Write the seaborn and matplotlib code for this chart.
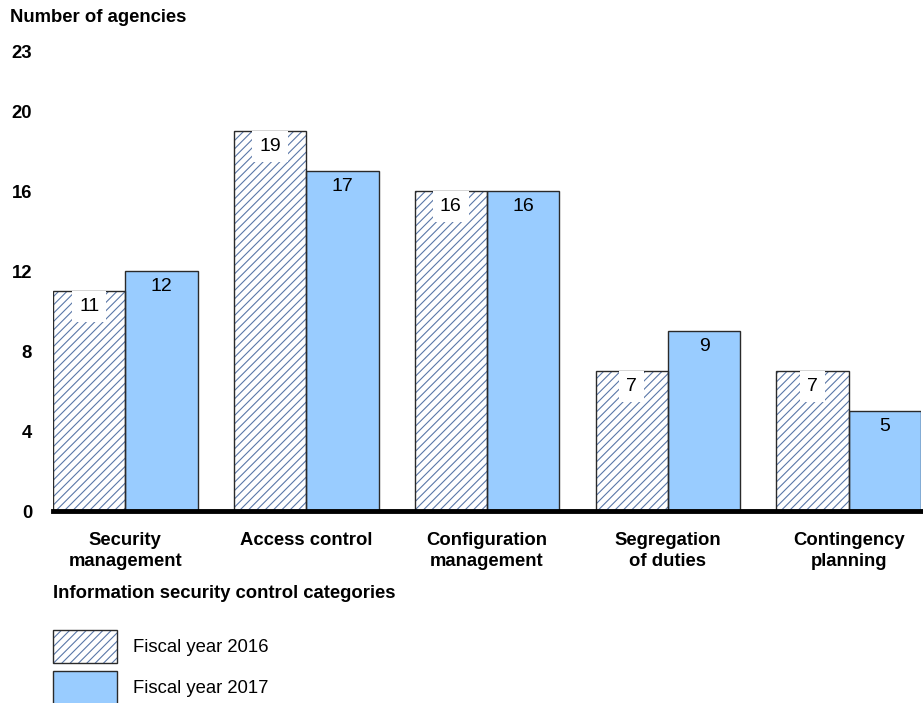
import matplotlib
matplotlib.use("Agg")
import matplotlib.pyplot as plt
from matplotlib.patches import Patch, Rectangle
from matplotlib.legend_handler import HandlerTuple
import pandas as pd
import seaborn as sns

categories = ["Security\nmanagement", "Access control", "Configuration\nmanagement",
              "Segregation\nof duties", "Contingency\nplanning"]
fy2016 = [11, 19, 16, 7, 7]
fy2017 = [12, 17, 16, 9, 5]
series_names = ["Fiscal year 2016", "Fiscal year 2017"]
y_ticks = [0, 4, 8, 12, 16, 20, 23]

sns.set_theme(style="white")
plt.rcParams["font.family"] = ["Liberation Sans", "DejaVu Sans"]
plt.rcParams["hatch.linewidth"] = 0.8
plt.rcParams["text.color"] = "black"
plt.rcParams["xtick.color"] = "black"
plt.rcParams["ytick.color"] = "black"

BLUE = "#99ccff"
HATCH = "#5a78a8"
EDGE = "#2a2a2a"
FS = 13.3

df = pd.DataFrame({
    "category": categories * 2,
    "value": fy2016 + fy2017,
    "year": [series_names[0]] * len(categories) + [series_names[1]] * len(categories),
})

fig = plt.figure(figsize=(9.23, 7.03), dpi=100)
ax = fig.add_axes([53 / 923, 1 - 511 / 703, 868 / 923, 460 / 703])

sns.barplot(data=df, x="category", y="value", hue="year", hue_order=series_names,
            palette=["white", BLUE], width=0.8, gap=0, ax=ax, legend=False,
            saturation=1, edgecolor=EDGE, linewidth=1)

n = len(categories)
bars = list(ax.patches)[:2 * n]
for i, bar in enumerate(bars):
    if i < n:
        # hatched bar: hatch lines in blue, dark outline drawn on top
        bar.set_hatch("////")
        bar.set_edgecolor(HATCH)
        bar.set_linewidth(0)
        ax.add_patch(Rectangle((bar.get_x(), bar.get_y()), bar.get_width(), bar.get_height(),
                               fill=False, edgecolor=EDGE, linewidth=1, zorder=bar.get_zorder() + 0.1))
    h = bar.get_height()
    kw = {}
    if i < n:
        kw["bbox"] = dict(boxstyle="square,pad=0.35", facecolor="white", edgecolor="none")
    ax.annotate(f"{int(h)}", (bar.get_x() + bar.get_width() / 2, h),
                xytext=(0, -11), textcoords="offset points", ha="center", va="center",
                fontsize=14, color="black", zorder=5, **kw)

ax.set_xlim(-0.4, n - 0.6)
ax.set_ylim(0, 23)
ax.set_yticks(y_ticks)
ax.set_yticklabels([str(t) for t in y_ticks], fontsize=FS, fontweight="bold")
ax.tick_params(axis="y", length=0, pad=15)
ax.tick_params(axis="x", length=0, pad=15)
for lbl in ax.get_xticklabels():
    lbl.set_fontsize(FS)
    lbl.set_fontweight("bold")
    lbl.set_linespacing(1.35)
ax.set_xlabel("")
ax.set_ylabel("")
for s in ["top", "right", "left"]:
    ax.spines[s].set_visible(False)
ax.spines["bottom"].set_linewidth(3.5)
ax.spines["bottom"].set_color("black")
ax.spines["bottom"].set_zorder(6)

fig.text(10 / 923, 1 - 18 / 703, "Number of agencies", fontsize=FS, fontweight="bold",
         ha="left", va="center")
fig.text(53 / 923, 1 - 593 / 703, "Information security control categories", fontsize=FS,
         fontweight="bold", ha="left", va="center")

hatched = Patch(facecolor="white", edgecolor=HATCH, hatch="////", linewidth=0)
outline = Patch(facecolor="none", edgecolor=EDGE, linewidth=1)
solid = Patch(facecolor=BLUE, edgecolor=EDGE, linewidth=1)
fig.legend([(hatched, outline), solid], series_names, loc="upper left",
           bbox_to_anchor=(53 / 923, 1 - 630 / 703), frameon=False,
           handler_map={tuple: HandlerTuple(ndivide=1, pad=0)},
           fontsize=FS, handlelength=3.45, handleheight=2.4, labelspacing=0.4,
           handletextpad=0.9, borderpad=0, borderaxespad=0)

fig.savefig("out.png", dpi=100)
